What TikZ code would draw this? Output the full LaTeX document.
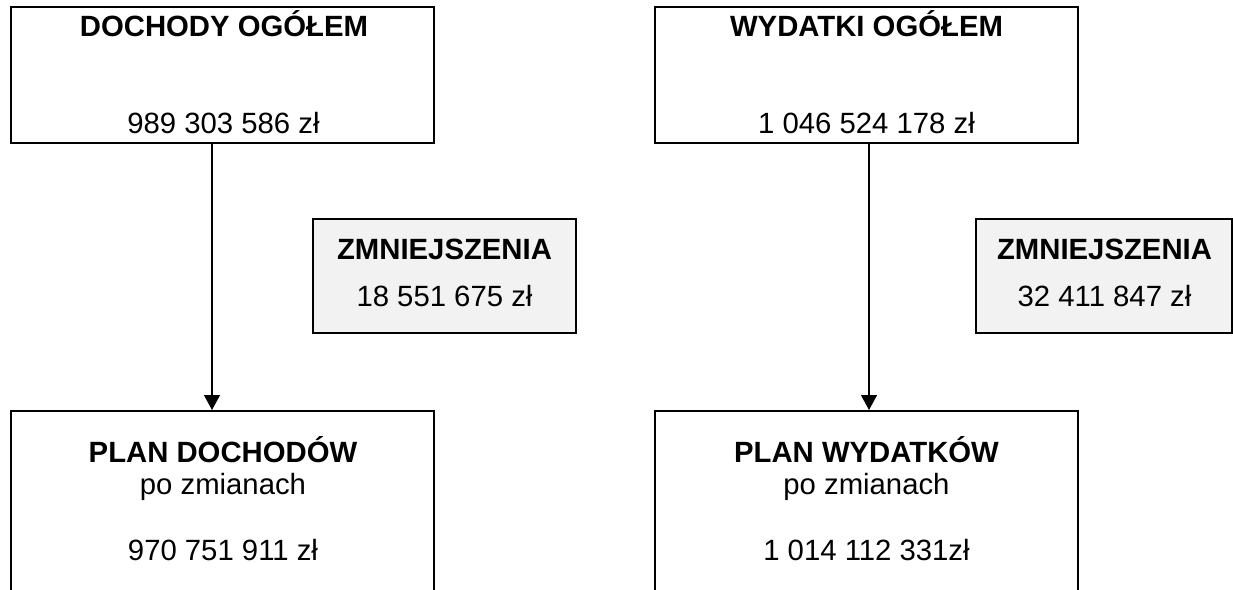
\documentclass[tikz,border=0pt]{standalone}
\usepackage{fontspec}
\setmainfont{Liberation Sans}
\usetikzlibrary{arrows.meta}
\definecolor{greyfill}{HTML}{F2F2F2}
\tikzset{
  box/.style={draw=black, line width=2pt, fill=white, inner sep=0pt, rectangle},
  greybox/.style={box, fill=greyfill},
  txt/.style={anchor=base, inner sep=0pt, font=\fontsize{29.3}{35}\selectfont},
  btxt/.style={txt, font=\fontsize{29.3}{35}\selectfont\bfseries},
  arr/.style={draw=black, line width=1.3pt, -{Triangle[width=16pt,length=15pt]}}
}
\begin{document}
\begin{tikzpicture}[x=1pt,y=-1pt]
\useasboundingbox (0,0) rectangle (1233,589);
% boxes
\node[box, minimum width=423pt, minimum height=136pt] (d1) at (222.5,75) {};
\node[box, minimum width=423pt, minimum height=136pt] (w1) at (866.5,75) {};
\node[greybox, minimum width=263pt, minimum height=114pt] (z1) at (444.5,276) {};
\node[greybox, minimum width=256pt, minimum height=114pt] (z2) at (1104,276) {};
\node[box, minimum width=423pt, minimum height=220pt] (p1) at (222.5,521) {};
\node[box, minimum width=423pt, minimum height=220pt] (p2) at (866.5,521) {};
% texts
\node[btxt] (d1t) at (224,36) {DOCHODY OGÓŁEM};
\node[txt] (d1v) at (223.5,133) {989 303 586 zł};
\node[btxt] (w1t) at (866.5,36) {WYDATKI OGÓŁEM};
\node[txt] (w1v) at (866.5,133) {1 046 524 178 zł};
\node[btxt] (z1t) at (444.5,259) {ZMNIEJSZENIA};
\node[txt] (z1v) at (444.5,306) {18 551 675 zł};
\node[btxt] (z2t) at (1104.5,259) {ZMNIEJSZENIA};
\node[txt] (z2v) at (1104.5,306) {32 411 847 zł};
\node[btxt] (p1t) at (223,462) {PLAN DOCHODÓW};
\node[txt] (p1s) at (223,494) {po zmianach};
\node[txt] (p1v) at (223,560) {970 751 911 zł};
\node[btxt] (p2t) at (866.5,462) {PLAN WYDATKÓW};
\node[txt] (p2s) at (866.5,494) {po zmianach};
\node[txt] (p2v) at (866.5,560) {1 014 112 331zł};
% connectors
\coordinate (a1x) at (212,0);
\coordinate (a2x) at (869,0);
\draw[arr] (d1.south -| a1x) -- (p1.north -| a1x);
\draw[arr] (w1.south -| a2x) -- (p2.north -| a2x);
\end{tikzpicture}
\end{document}
